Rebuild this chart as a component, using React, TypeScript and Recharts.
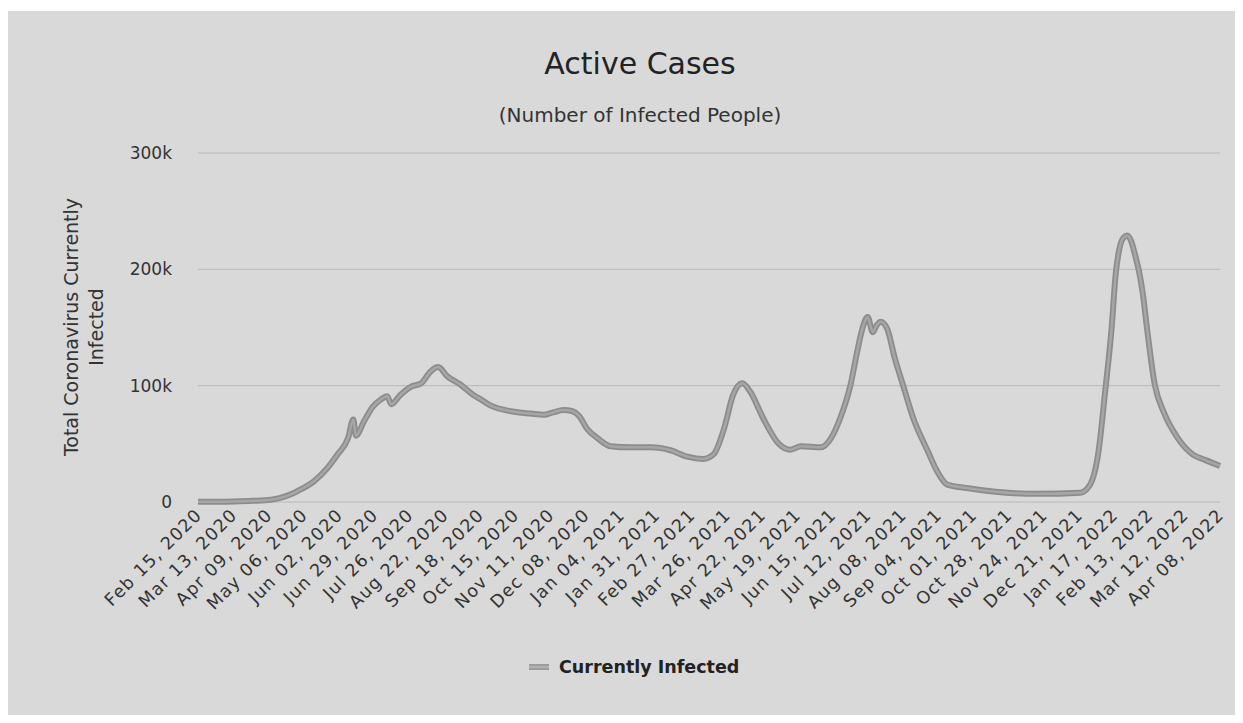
import React from 'react';
import { LineChart, Line, XAxis, YAxis, CartesianGrid } from 'recharts';

// day offsets from Feb 15, 2020 and active cases
const dayOffsets = [
  0, 14, 28, 42, 56, 63, 72, 79, 89, 99, 107, 115, 119, 121, 127, 134, 140, 145, 148, 155,
  163, 171, 178, 184, 191, 201, 211, 217, 224, 240, 255, 265, 272, 280, 287, 292, 298, 306,
  316, 331, 347, 362, 375, 387, 395, 403, 410, 417, 423, 433, 445, 454, 462, 477, 485, 492,
  500, 505, 509, 513, 517, 520, 523, 528, 534, 540, 548, 559, 566, 574, 589, 609, 643, 676,
  683, 690, 695, 700, 703, 706, 709, 712, 715, 718, 721, 724, 727, 733, 740, 750, 762, 772, 783,
];
const activeCases = [
  300, 300, 500, 1000, 2000, 3500, 7000, 11000, 18000, 29000, 41000, 55000, 71000, 57000, 69000,
  82000, 88000, 91000, 84000, 92000, 99000, 102000, 112000, 116000, 108000, 101000, 92000, 88000,
  83000, 78000, 76000, 75000, 77000, 79000, 78000, 74000, 63000, 55000, 48000, 47000, 47000,
  44500, 39000, 37000, 41000, 63000, 92000, 102000, 95000, 72000, 50000, 45000, 48000, 47000,
  55000, 72000, 101000, 129000, 149000, 159000, 146000, 152000, 155000, 149000, 123000, 101000,
  72000, 44000, 27000, 15000, 12000, 9000, 7000, 8000, 14000, 44000, 95000, 150000, 195000,
  218000, 227000, 229000, 224000, 212000, 198000, 178000, 150000, 101000, 77000, 56000, 41000,
  36000, 31000,
];
const tickLabels = [
  'Feb 15, 2020', 'Mar 13, 2020', 'Apr 09, 2020', 'May 06, 2020', 'Jun 02, 2020', 'Jun 29, 2020',
  'Jul 26, 2020', 'Aug 22, 2020', 'Sep 18, 2020', 'Oct 15, 2020', 'Nov 11, 2020', 'Dec 08, 2020',
  'Jan 04, 2021', 'Jan 31, 2021', 'Feb 27, 2021', 'Mar 26, 2021', 'Apr 22, 2021', 'May 19, 2021',
  'Jun 15, 2021', 'Jul 12, 2021', 'Aug 08, 2021', 'Sep 04, 2021', 'Oct 01, 2021', 'Oct 28, 2021',
  'Nov 24, 2021', 'Dec 21, 2021', 'Jan 17, 2022', 'Feb 13, 2022', 'Mar 12, 2022', 'Apr 08, 2022',
];
const yTicks = [0, 100000, 200000, 300000];

const FONT = '"DejaVu Sans", "Open Sans", sans-serif';
const TICK_STEP = 27;

const chartData = dayOffsets.map((day, i) => ({ day, cases: activeCases[i] }));
const xTicks = tickLabels.map((_, i) => i * TICK_STEP);

const DateTick = (props: any) => {
  const { x, y, payload } = props;
  const label = tickLabels[Math.round(payload.value / TICK_STEP)];
  const tx = x + 5;
  const ty = y + 14;
  return (
    <text
      x={tx}
      y={ty}
      textAnchor="end"
      transform={`rotate(-45 ${tx} ${ty})`}
      fill="#333"
      fontSize={17.5}
      letterSpacing={1.2}
      fontFamily={FONT}
    >
      {label}
    </text>
  );
};

export default function App() {
  return (
    <div style={{ position: 'relative', width: 1243, height: 723, background: '#fff', margin: -8, overflow: 'hidden' }}>
      <div style={{ position: 'absolute', left: 8, top: 11, width: 1235, height: 712, background: '#d9d9d9' }} />

      <div style={{ position: 'absolute', left: 340, width: 600, top: 46, textAlign: 'center', fontFamily: FONT, fontSize: 30, color: '#222' }}>
        Active Cases
      </div>
      <div style={{ position: 'absolute', left: 340, width: 600, top: 103, textAlign: 'center', fontFamily: FONT, fontSize: 20, color: '#333' }}>
        (Number of Infected People)
      </div>

      <div
        style={{
          position: 'absolute', left: 84 - 200, top: 327 - 25, width: 400, textAlign: 'center',
          transform: 'rotate(-90deg)', fontFamily: FONT, fontSize: 19, lineHeight: '25px', color: '#333',
        }}
      >
        Total Coronavirus Currently
        <br />
        Infected
      </div>

      <div style={{ position: 'absolute', left: 0, top: 0 }}>
        <LineChart width={1243} height={723} data={chartData} margin={{ top: 153, right: 23, left: 138, bottom: 121 }}>
          <CartesianGrid horizontal vertical={false} stroke="#b8b8b8" />
          <XAxis
            type="number"
            dataKey="day"
            domain={[0, 783]}
            ticks={xTicks}
            interval={0}
            tick={<DateTick />}
            tickSize={0}
            tickMargin={0}
            axisLine={false}
            tickLine={false}
            height={100}
          />
          <YAxis
            domain={[0, 300000]}
            ticks={yTicks}
            tickFormatter={(v: number) => (v === 0 ? '0' : `${v / 1000}k`)}
            tick={{ fill: '#333', fontSize: 17, fontFamily: FONT }}
            axisLine={false}
            tickLine={false}
            tickSize={0}
            tickMargin={26}
            width={60}
          />
          <Line type="monotone" dataKey="cases" stroke="#8c8c8c" strokeWidth={6} dot={false} isAnimationActive={false} />
          <Line type="monotone" dataKey="cases" stroke="#a6a6a6" strokeWidth={2.5} dot={false} isAnimationActive={false} />
        </LineChart>
      </div>

      <div style={{ position: 'absolute', left: 527, top: 657, display: 'flex', alignItems: 'center', fontFamily: FONT, fontSize: 17.5, fontWeight: 'bold', color: '#222' }}>
        <svg width={24} height={12} style={{ marginRight: 8 }}>
          <line x1={2} y1={6} x2={22} y2={6} stroke="#9a9a9a" strokeWidth={6} />
          <line x1={2} y1={6} x2={22} y2={6} stroke="#b0b0b0" strokeWidth={2.5} />
        </svg>
        Currently Infected
      </div>
    </div>
  );
}
